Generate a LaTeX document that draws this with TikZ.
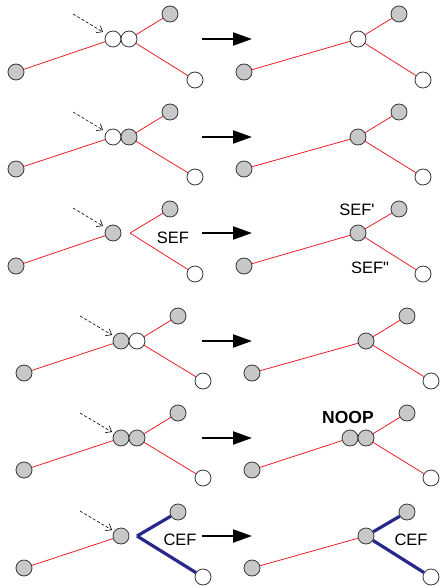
\documentclass[tikz,border=0pt]{standalone}
\usepackage{fontspec}
\setmainfont{Liberation Sans}
\usetikzlibrary{arrows.meta}
\definecolor{nodegray}{RGB}{200,200,200}
\definecolor{rimgray}{RGB}{55,55,55}
\definecolor{edgered}{RGB}{235,30,40}
\definecolor{edgeblue}{RGB}{40,40,140}

\begin{document}
\begin{tikzpicture}[x=1pt, y=-1pt,
    gnode/.style={circle, draw=rimgray, line width=0.8pt, fill=nodegray, minimum size=16pt, inner sep=0pt},
    wnode/.style={circle, draw=rimgray, line width=0.8pt, fill=white, minimum size=16pt, inner sep=0pt},
    redge/.style={edgered, line width=0.8pt},
    bedge/.style={edgeblue, line width=3.2pt},
    hint/.style={dashed, dash pattern=on 3pt off 2pt, line width=0.6pt, -{Straight Barb[length=5pt,width=8pt]}},
    goarrow/.style={line width=2pt, -{Triangle[length=19pt,width=13pt]}},
    lbl/.style={font=\fontsize{16.5}{19}\selectfont, inner sep=0pt}]
    \useasboundingbox (0,0) rectangle (439,586);

    % row 1: white + white
    \node[gnode] (L1a) at (16,72) {};
    \node[wnode] (L1b) at (113,39) {};
    \node[wnode] (L1c) at (129,39) {};
    \node[gnode] (L1t) at (170,14) {};
    \node[wnode] (L1d) at (195,80) {};
    \draw[redge] (L1a) -- (L1b);
    \draw[redge] (L1c) -- (L1t);
    \draw[redge] (L1c) -- (L1d);
    \coordinate (H1s) at (73,14);
    \coordinate (H1e) at (103,32);
    \draw[hint] (H1s) -- (H1e);
    \coordinate (A1s) at (202,39);
    \coordinate (A1e) at (252,39);
    \draw[goarrow] (A1s) -- (A1e);
    \node[gnode] (R1a) at (244,72) {};
    \node[wnode] (R1c) at (358,39) {};
    \node[gnode] (R1t) at (399,14) {};
    \node[wnode] (R1d) at (423,80) {};
    \draw[redge] (R1a) -- (R1c);
    \draw[redge] (R1c) -- (R1t);
    \draw[redge] (R1c) -- (R1d);

    % row 2: white + gray
    \node[gnode] (L2a) at (16,169) {};
    \node[wnode] (L2b) at (113,137) {};
    \node[gnode] (L2c) at (129,137) {};
    \node[gnode] (L2t) at (170,112) {};
    \node[wnode] (L2d) at (195,177) {};
    \draw[redge] (L2a) -- (L2b);
    \draw[redge] (L2c) -- (L2t);
    \draw[redge] (L2c) -- (L2d);
    \coordinate (H2s) at (73,112);
    \coordinate (H2e) at (103,130);
    \draw[hint] (H2s) -- (H2e);
    \coordinate (A2s) at (202,137);
    \coordinate (A2e) at (252,137);
    \draw[goarrow] (A2s) -- (A2e);
    \node[gnode] (R2a) at (244,169) {};
    \node[gnode] (R2c) at (358,137) {};
    \node[gnode] (R2t) at (399,112) {};
    \node[wnode] (R2d) at (423,177) {};
    \draw[redge] (R2a) -- (R2c);
    \draw[redge] (R2c) -- (R2t);
    \draw[redge] (R2c) -- (R2d);

    % row 3: split edge
    \node[gnode] (L3a) at (16,266) {};
    \node[gnode] (L3c) at (113,233) {};
    \coordinate (L3v) at (130,233);
    \node[gnode] (L3t) at (170,209) {};
    \node[wnode] (L3d) at (195,274) {};
    \draw[redge] (L3a) -- (L3c);
    \draw[redge] (L3v) -- (L3t);
    \draw[redge] (L3v) -- (L3d);
    \node[lbl] (sef) at (173,238) {SEF};
    \coordinate (H3s) at (73,208);
    \coordinate (H3e) at (103,226);
    \draw[hint] (H3s) -- (H3e);
    \coordinate (A3s) at (202,233);
    \coordinate (A3e) at (252,233);
    \draw[goarrow] (A3s) -- (A3e);
    \node[gnode] (R3a) at (244,266) {};
    \node[gnode] (R3c) at (358,233) {};
    \node[gnode] (R3t) at (399,209) {};
    \node[wnode] (R3d) at (423,274) {};
    \draw[redge] (R3a) -- (R3c);
    \draw[redge] (R3c) -- (R3t);
    \draw[redge] (R3c) -- (R3d);
    \node[lbl] (sefa) at (357,210) {SEF\textquotesingle};
    \node[lbl] (sefb) at (370,268) {SEF\textquotedbl};

    % row 4: gray + white
    \node[gnode] (L4a) at (24,373) {};
    \node[gnode] (L4b) at (121,341) {};
    \node[wnode] (L4c) at (137,341) {};
    \node[gnode] (L4t) at (178,316) {};
    \node[wnode] (L4d) at (203,381) {};
    \draw[redge] (L4a) -- (L4b);
    \draw[redge] (L4c) -- (L4t);
    \draw[redge] (L4c) -- (L4d);
    \coordinate (H4s) at (80,316);
    \coordinate (H4e) at (112,335);
    \draw[hint] (H4s) -- (H4e);
    \coordinate (A4s) at (202,341);
    \coordinate (A4e) at (252,341);
    \draw[goarrow] (A4s) -- (A4e);
    \node[gnode] (R4a) at (252,373) {};
    \node[gnode] (R4c) at (366,341) {};
    \node[gnode] (R4t) at (407,316) {};
    \node[wnode] (R4d) at (431,381) {};
    \draw[redge] (R4a) -- (R4c);
    \draw[redge] (R4c) -- (R4t);
    \draw[redge] (R4c) -- (R4d);

    % row 5: gray + gray
    \node[gnode] (L5a) at (24,470) {};
    \node[gnode] (L5b) at (121,438) {};
    \node[gnode] (L5c) at (137,438) {};
    \node[gnode] (L5t) at (178,413) {};
    \node[wnode] (L5d) at (203,478) {};
    \draw[redge] (L5a) -- (L5b);
    \draw[redge] (L5c) -- (L5t);
    \draw[redge] (L5c) -- (L5d);
    \coordinate (H5s) at (80,413);
    \coordinate (H5e) at (112,432);
    \draw[hint] (H5s) -- (H5e);
    \coordinate (A5s) at (202,438);
    \coordinate (A5e) at (252,438);
    \draw[goarrow] (A5s) -- (A5e);
    \node[gnode] (R5a) at (252,470) {};
    \node[gnode] (R5b) at (350,438) {};
    \node[gnode] (R5c) at (366,438) {};
    \node[gnode] (R5t) at (407,413) {};
    \node[wnode] (R5d) at (431,478) {};
    \draw[redge] (R5a) -- (R5b);
    \draw[redge] (R5c) -- (R5t);
    \draw[redge] (R5c) -- (R5d);
    \node[lbl, font=\fontsize{17.5}{20}\selectfont\bfseries] (noop) at (348,417) {NOOP};

    % row 6: collapse edge
    \node[gnode] (L6a) at (24,568) {};
    \node[gnode] (L6c) at (121,536) {};
    \coordinate (L6v) at (137,536);
    \node[gnode] (L6t) at (178,512) {};
    \node[wnode] (L6d) at (203,577) {};
    \draw[redge] (L6a) -- (L6c);
    \draw[bedge] (L6v) -- (L6t);
    \draw[bedge] (L6v) -- (L6d);
    \node[lbl] (cefl) at (180,540) {CEF};
    \coordinate (H6s) at (80,511);
    \coordinate (H6e) at (112,530);
    \draw[hint] (H6s) -- (H6e);
    \coordinate (A6s) at (202,536);
    \coordinate (A6e) at (252,536);
    \draw[goarrow] (A6s) -- (A6e);
    \node[gnode] (R6a) at (252,568) {};
    \node[gnode] (R6c) at (366,536) {};
    \node[gnode] (R6t) at (407,512) {};
    \node[wnode] (R6d) at (431,577) {};
    \draw[redge] (R6a) -- (R6c);
    \draw[bedge] (R6c) -- (R6t);
    \draw[bedge] (R6c) -- (R6d);
    \node[lbl] (cefr) at (411,540) {CEF};
\end{tikzpicture}
\end{document}
